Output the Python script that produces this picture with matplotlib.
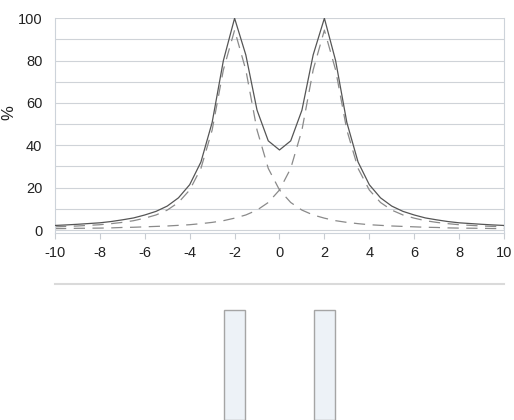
import matplotlib
matplotlib.use("Agg")
import matplotlib.pyplot as plt

# x positions (step 0.5)
x = [-10, -9.5, -9, -8.5, -8, -7.5, -7, -6.5, -6, -5.5, -5, -4.5, -4, -3.5, -3, -2.5, -2,
     -1.5, -1, -0.5, 0, 0.5, 1, 1.5, 2, 2.5, 3, 3.5, 4, 4.5, 5, 5.5, 6, 6.5, 7, 7.5, 8,
     8.5, 9, 9.5, 10]

# left component (peak at -2)
comp_left = [1.5, 1.7, 1.9, 2.2, 2.5, 3.0, 3.6, 4.4, 5.6, 7.1, 9.4, 13.0, 18.9, 29.1, 47.2,
             75.6, 94.4, 75.6, 47.2, 29.1, 18.9, 13.0, 9.4, 7.1, 5.6, 4.4, 3.6, 3.0, 2.5,
             2.2, 1.9, 1.7, 1.5, 1.3, 1.2, 1.0, 0.9, 0.85, 0.8, 0.7, 0.65]
# right component (peak at +2)
comp_right = comp_left[::-1]
# total
total = [2.15, 2.4, 2.7, 3.05, 3.4, 4.0, 4.8, 5.7, 7.1, 8.8, 11.3, 15.2, 21.4, 32.1, 50.8,
         80.0, 100.0, 82.7, 56.6, 42.1, 37.8, 42.1, 56.6, 82.7, 100.0, 80.0, 50.8, 32.1,
         21.4, 15.2, 11.3, 8.8, 7.1, 5.7, 4.8, 4.0, 3.4, 3.05, 2.7, 2.4, 2.15]

x_ticks = [-10, -8, -6, -4, -2, 0, 2, 4, 6, 8, 10]
y_ticks = [0, 20, 40, 60, 80, 100]

# lower panel bars
bar_pos = [-2, 2]
bar_heights = [100, 100]

fig = plt.figure(figsize=(5.14, 4.2), dpi=100)
plt.rcParams['font.family'] = ['Liberation Sans', 'DejaVu Sans']

ax = fig.add_axes([0.107, 0.4448, 0.8735, 0.5117])
ax.set_xlim(-10, 10)
ax.set_ylim(-1.5, 100)
for yv in range(0, 101, 10):
    ax.axhline(yv, color='#cfd3d8', lw=0.8, zorder=0)
ax.plot(x, comp_left, color='#8a8a8a', lw=0.9, dashes=(9, 6), zorder=2)
ax.plot(x, comp_right, color='#8a8a8a', lw=0.9, dashes=(9, 6), zorder=2)
ax.plot(x, total, color='#555555', lw=0.9, zorder=3)
ax.set_xticks(x_ticks)
ax.set_xticklabels([str(v) for v in x_ticks])
ax.set_yticks(y_ticks)
ax.set_yticklabels([str(v) for v in y_ticks])
ax.tick_params(axis='x', direction='out', length=4, width=0.8, color='#c8ccd2',
               labelsize=10.5, labelcolor='#222222', pad=5)
ax.tick_params(axis='y', length=0, labelsize=10.5, labelcolor='#222222', pad=9)
for s in ['left', 'right', 'bottom']:
    ax.spines[s].set_color('#cdd3da')
    ax.spines[s].set_linewidth(0.8)
ax.spines['top'].set_visible(False)
ax.set_ylabel('%', fontsize=12, color='#222222')
ax.yaxis.set_label_coords(-0.087, 0.56)

ax2 = fig.add_axes([0.107, 0.0, 0.8735, 0.3238])
ax2.set_xlim(-10, 10)
ax2.set_ylim(0, 123.5)
ax2.bar(bar_pos, bar_heights, width=0.93, color='#edf2f7', edgecolor='#a5a5a5', linewidth=1.0)
ax2.set_xticks([])
ax2.set_yticks([])
for s in ['left', 'right', 'bottom']:
    ax2.spines[s].set_visible(False)
ax2.spines['top'].set_color('#dadada')
ax2.spines['top'].set_linewidth(1.5)

fig.savefig('out.png', dpi=100)
